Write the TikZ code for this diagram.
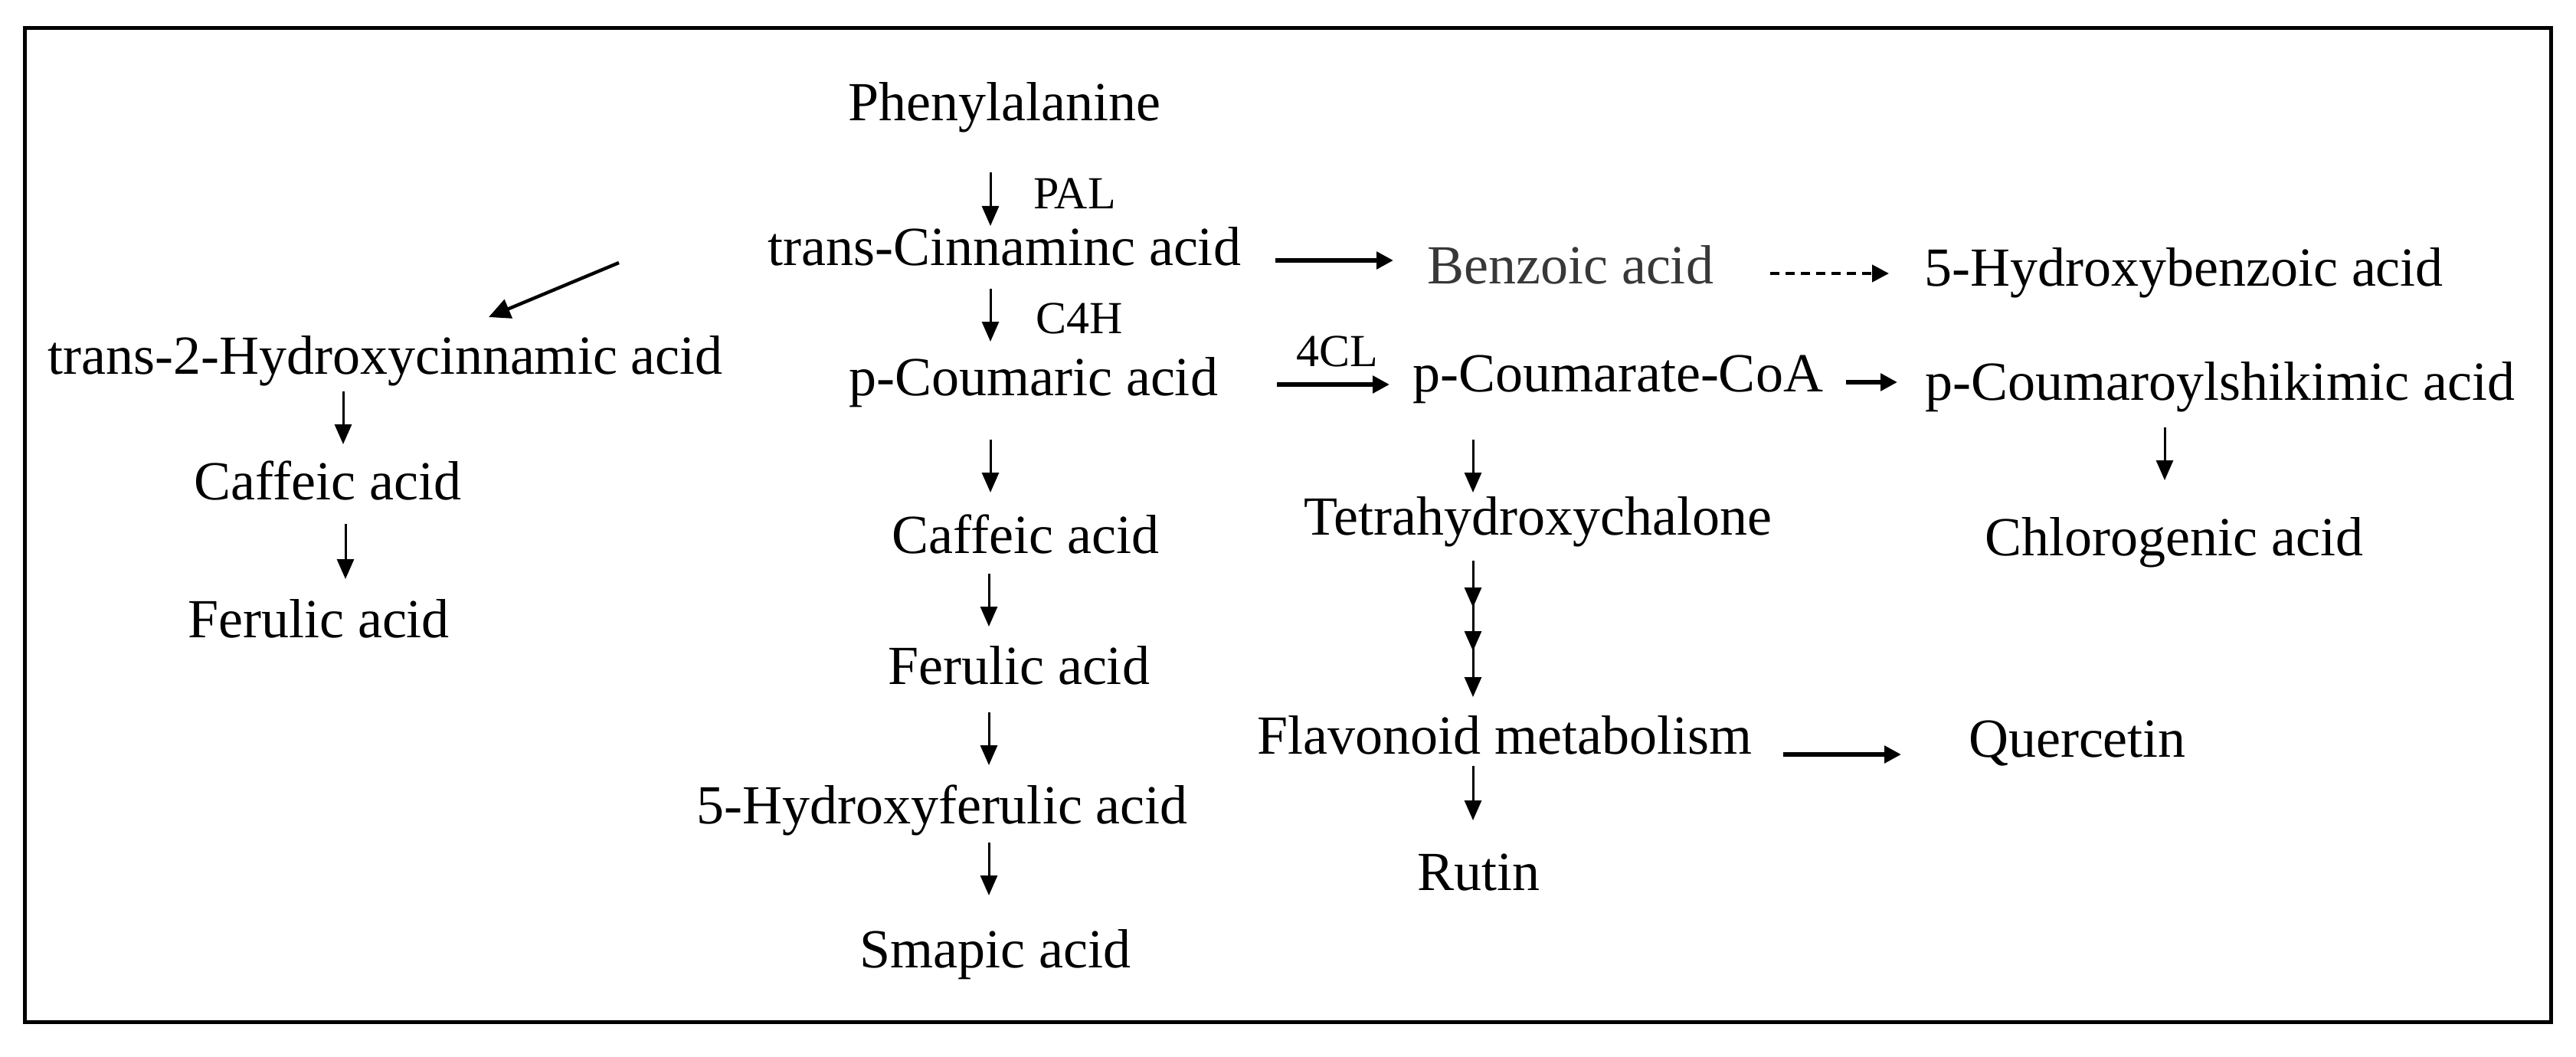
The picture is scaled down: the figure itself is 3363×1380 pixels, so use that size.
\documentclass[tikz,border=0pt]{standalone}
\usepackage{fontspec}
\setmainfont{Liberation Serif}
\usetikzlibrary{arrows.meta,calc,decorations.markings}
\begin{document}
\begin{tikzpicture}[x=0.25pt,y=-0.25pt,
  lbl/.style={anchor=base,inner sep=0pt,font=\fontsize{18}{20}\selectfont},
  enz/.style={anchor=base,inner sep=0pt,font=\fontsize{15}{17}\selectfont},
  vhead/.tip={Triangle[length=6.5pt,width=5.5pt]},
  hhead/.tip={Triangle[length=5.5pt,width=5.5pt]},
  varrow/.style={line width=0.75pt,-vhead},
  harrow/.style={line width=1.4pt,-hhead},
  darrow/.style={line width=1.1pt,-{Triangle[length=7pt,width=6.5pt]}},
  dasharrow/.style={line width=1.1pt,dash pattern=on 3pt off 2pt,-hhead},
  triplearrow/.style={varrow,postaction={decorate},
    decoration={markings,
      mark=at position 0.343 with {\arrow{vhead}},
      mark=at position 0.663 with {\arrow{vhead}}}},
  frame/.style={draw=black,line width=1.25pt}
]
\useasboundingbox (0,0) rectangle (3363,1380);
\draw[frame] (32,37) rectangle (3330,1334);

% central column
\node[lbl] (phe)  at (1311,158)  {Phenylalanine};
\node[enz] (pal)  at (1403,273)  {PAL};
\node[lbl] (tca)  at (1311,346)  {trans-Cinnaminc acid};
\node[enz] (c4h)  at (1409,435)  {C4H};
\node[lbl] (pca)  at (1349,516)  {p-Coumaric acid};
\node[lbl] (caf2) at (1339,722)  {Caffeic acid};
\node[lbl] (fer2) at (1330,893)  {Ferulic acid};
\node[lbl] (hfa)  at (1230,1075) {5-Hydroxyferulic acid};
\node[lbl] (sin)  at (1299,1263) {Smapic acid};

% left column
\node[lbl] (t2h)  at (503,488)   {trans-2-Hydroxycinnamic acid};
\node[lbl] (caf1) at (428,652)   {Caffeic acid};
\node[lbl] (fer1) at (416,832)   {Ferulic acid};

% right part
\node[lbl,text=black!78] (benz) at (2050,370) {Benzoic acid};
\node[lbl] (hba)  at (2851,373)  {5-Hydroxybenzoic acid};
\node[enz] (cl4)  at (1746,478)  {4CL};
\node[lbl] (pcc)  at (2112,511)  {p-Coumarate-CoA};
\node[lbl] (pcs)  at (2898,522)  {p-Coumaroylshikimic acid};
\node[lbl] (thc)  at (2008,698)  {Tetrahydroxychalone};
\node[lbl] (chl)  at (2838,725)  {Chlorogenic acid};
\node[lbl] (flav) at (1964,984)  {Flavonoid metabolism};
\node[lbl] (quer) at (2712,988)  {Quercetin};
\node[lbl] (rut)  at (1930,1162) {Rutin};

% central column arrows
\draw[varrow] ($(phe.base)+(-18,67)$)  -- ($(tca.base)+(-18,-51)$);
\draw[varrow] ($(tca.base)+(-18,31)$)  -- ($(pca.base)+(-56,-70)$);
\draw[varrow] ($(pca.base)+(-56,58)$)  -- ($(caf2.base)+(-46,-79)$);
\draw[varrow] ($(caf2.base)+(-48,27)$) -- ($(fer2.base)+(-39,-75)$);
\draw[varrow] ($(fer2.base)+(-39,37)$) -- ($(hfa.base)+(61,-76)$);
\draw[varrow] ($(hfa.base)+(61,25)$)   -- ($(sin.base)+(-8,-94)$);

% left branch
\draw[darrow] ($(tca.base)+(-503,-3)$) -- ($(t2h.base)+(135,-74)$);
\draw[varrow] ($(t2h.base)+(-55,23)$)  -- ($(caf1.base)+(20,-72)$);
\draw[varrow] ($(caf1.base)+(23,32)$)  -- ($(fer1.base)+(35,-76)$);

% right branches
\draw[harrow] ($(tca.base)+(354,-6)$)  -- ($(benz.base)+(-231,-30)$);
\draw[dasharrow] ($(benz.base)+(261,-13)$) -- ($(hba.base)+(-385,-16)$);
\draw[harrow] ($(pca.base)+(318,-14)$) -- ($(pcc.base)+(-298,-9)$);
\draw[harrow] ($(pcc.base)+(298,-12)$) -- ($(pcs.base)+(-421,-23)$);
\draw[varrow] ($(pcc.base)+(-189,63)$) -- ($(thc.base)+(-85,-55)$);
\draw[varrow] ($(pcs.base)+(-72,36)$)  -- ($(chl.base)+(-12,-98)$);
\draw[triplearrow] ($(thc.base)+(-85,34)$) -- ($(flav.base)+(-41,-74)$);
\draw[harrow] ($(flav.base)+(364,1)$)  -- ($(quer.base)+(-230,-3)$);
\draw[varrow] ($(flav.base)+(-41,16)$) -- ($(rut.base)+(-7,-91)$);
\end{tikzpicture}
\end{document}
